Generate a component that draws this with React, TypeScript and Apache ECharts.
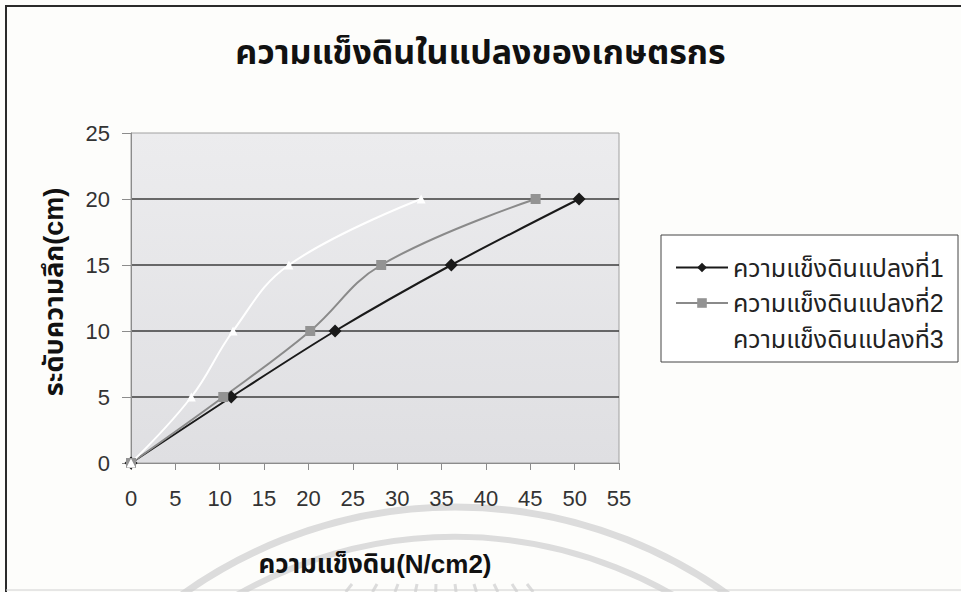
import React, { useEffect, useRef } from "react";
import * as echarts from "echarts";

const titleText = "ความแข็งดินในแปลงของเกษตรกร";
const xAxisName = "ความแข็งดิน(N/cm2)";
const yAxisName = "ระดับความลึก(cm)";
const seriesNames = ["ความแข็งดินแปลงที่1", "ความแข็งดินแปลงที่2", "ความแข็งดินแปลงที่3"];
const depth = [0, 5, 10, 15, 20];
const hardness1 = [0, 11.3, 23.0, 36.1, 50.5];
const hardness2 = [0, 10.4, 20.2, 28.2, 45.6];
const hardness3 = [0, 6.8, 11.5, 17.8, 32.7];
const xTicks = { min: 0, max: 55, interval: 5 };
const yTicks = { min: 0, max: 25, interval: 5 };

const FONT = "'Liberation Sans', Arial, 'Noto Sans Thai', Loma, Garuda, 'DejaVu Sans', sans-serif";

export default function App() {
  const ref = useRef<HTMLDivElement>(null);
  useEffect(() => {
    if (!ref.current) return;
    const chart = echarts.init(ref.current, null, { renderer: "svg" });
    const toPts = (xs: number[]) => xs.map((x, i) => [x, depth[i]]);
    const rayXs = [352, 377, 398, 417, 436, 455, 474, 494, 512, 527];
    const rays = rayXs.map((x) => ({
      type: "line",
      silent: true,
      z: -10,
      shape: { x1: x, y1: 584, x2: x + ((x - 440) * 8) / 112, y2: 592 },
      style: { stroke: "#dcdcdc", lineWidth: 3 },
    }));
    chart.setOption({
      animation: false,
      backgroundColor: "#fdfdfb",
      textStyle: { fontFamily: FONT },
      title: {
        text: titleText,
        left: "center",
        top: 30,
        textStyle: { fontSize: 34, fontWeight: "bold", color: "#111", fontFamily: FONT },
      },
      grid: {
        left: 131,
        top: 133,
        width: 488,
        height: 330,
        show: true,
        borderColor: "#a0a0a0",
        borderWidth: 1,
        backgroundColor: new echarts.graphic.LinearGradient(0, 0, 0, 1, [
          { offset: 0, color: "#ececee" },
          { offset: 1, color: "#dfdfe2" },
        ]),
      },
      legend: {
        orient: "vertical",
        left: 670,
        top: 250,
        itemWidth: 52,
        itemHeight: 12,
        itemGap: 10.5,
        z: 10,
        textStyle: { fontSize: 25, color: "#222", lineHeight: 25, fontFamily: FONT },
        data: seriesNames,
      },
      xAxis: {
        type: "value",
        min: xTicks.min,
        max: xTicks.max,
        interval: xTicks.interval,
        name: xAxisName,
        nameLocation: "middle",
        nameGap: 88,
        nameTextStyle: { fontSize: 26, fontWeight: "bold", color: "#111", fontFamily: FONT },
        axisLine: { show: true, lineStyle: { color: "#8c8c8c", width: 1 } },
        axisTick: { show: true, length: 7, lineStyle: { color: "#8c8c8c" } },
        axisLabel: { fontSize: 22, color: "#333", margin: 24, fontFamily: FONT },
        splitLine: { show: false },
      },
      yAxis: {
        type: "value",
        min: yTicks.min,
        max: yTicks.max,
        interval: yTicks.interval,
        axisLine: { show: true, lineStyle: { color: "#8c8c8c", width: 1 } },
        axisTick: { show: true, length: 9, lineStyle: { color: "#8c8c8c" } },
        axisLabel: { fontSize: 22, color: "#333", margin: 21, fontFamily: FONT },
        splitLine: {
          show: true,
          showMinLine: false,
          showMaxLine: false,
          lineStyle: { color: "#3c3c3c", width: 1.5 },
        },
      },
      graphic: [
        {
          type: "arc",
          silent: true,
          z: -10,
          shape: { cx: 455, cy: 975, r: 468, startAngle: Math.PI, endAngle: 2 * Math.PI },
          style: { stroke: "#dcdcdc", lineWidth: 7, fill: null },
        },
        {
          type: "arc",
          silent: true,
          z: -10,
          shape: { cx: 455, cy: 975, r: 438, startAngle: Math.PI, endAngle: 2 * Math.PI },
          style: { stroke: "#dcdcdc", lineWidth: 6, fill: null },
        },
        ...rays,
        {
          type: "polyline",
          silent: true,
          shape: { points: [[6, 592], [6, 6], [961, 6]] },
          style: { stroke: "#2a2a2a", lineWidth: 2, fill: null },
        },
        {
          type: "line",
          silent: true,
          shape: { x1: 6, y1: 590, x2: 961, y2: 590 },
          style: { stroke: "#d0d0d0", lineWidth: 1 },
        },
        {
          type: "rect",
          silent: true,
          z: 1,
          shape: { x: 661, y: 235, width: 297, height: 127 },
          style: { fill: "#ffffff", stroke: "#444", lineWidth: 1 },
        },
        {
          type: "text",
          silent: true,
          x: 54,
          y: 292,
          rotation: Math.PI / 2,
          style: {
            text: yAxisName,
            fontSize: 27,
            fontWeight: "bold",
            fill: "#111",
            fontFamily: FONT,
            align: "center",
            verticalAlign: "middle",
          },
        },
      ],
      series: [
        {
          name: seriesNames[0],
          type: "line",
          data: toPts(hardness1),
          smooth: 0.3,
          symbol: "diamond",
          symbolSize: 13,
          lineStyle: { color: "#1a1a1a", width: 2 },
          itemStyle: { color: "#1a1a1a" },
        },
        {
          name: seriesNames[1],
          type: "line",
          data: toPts(hardness2),
          smooth: 0.4,
          symbol: "rect",
          symbolSize: 10,
          lineStyle: { color: "#8a8a8a", width: 2 },
          itemStyle: { color: "#939393" },
        },
        {
          name: seriesNames[2],
          type: "line",
          data: toPts(hardness3),
          smooth: 0.4,
          symbol: "triangle",
          symbolSize: 9,
          lineStyle: { color: "#ffffff", width: 2 },
          itemStyle: { color: "#ffffff" },
        },
      ],
    });
    return () => chart.dispose();
  }, []);
  return (
    <div
      ref={ref}
      style={{ position: "absolute", left: 0, top: 0, width: 961, height: 592 }}
    />
  );
}
